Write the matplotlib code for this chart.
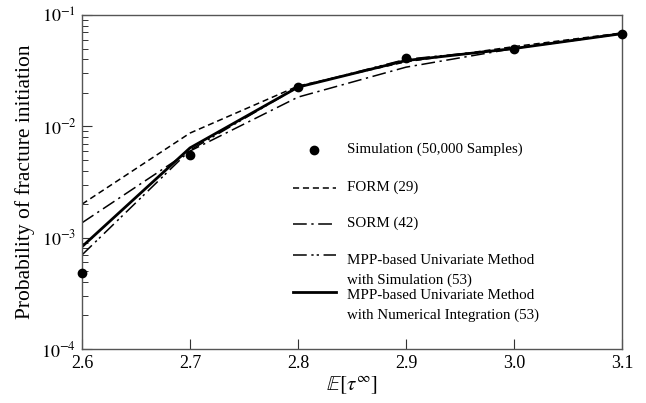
import matplotlib
matplotlib.use("Agg")
import matplotlib.pyplot as plt
from matplotlib.lines import Line2D

plt.rcParams['font.family'] = ['Liberation Serif', 'DejaVu Serif']
plt.rcParams['mathtext.fontset'] = 'stix'

x = [2.6, 2.7, 2.8, 2.9, 3.0, 3.1]
sim = [4.8e-4, 5.5e-3, 0.0225, 0.041, 0.049, 0.068]
form = [2.0e-3, 8.7e-3, 0.023, 0.038, 0.052, 0.069]
sorm = [1.36e-3, 6.0e-3, 0.0183, 0.034, 0.050, 0.068]
mpp_sim = [7.0e-4, 6.1e-3, 0.0225, 0.040, 0.050, 0.068]
mpp_ni = [8.3e-4, 6.4e-3, 0.0225, 0.039, 0.050, 0.068]

labels = ["Simulation (50,000 Samples)", "FORM (29)", "SORM (42)",
          "MPP-based Univariate Method\nwith Simulation (53)",
          "MPP-based Univariate Method\nwith Numerical Integration (53)"]
xticks = [2.6, 2.7, 2.8, 2.9, 3.0, 3.1]
xticklabels = ["2.6", "2.7", "2.8", "2.9", "3.0", "3.1"]

ls_form = (0, (4, 2.5))
ls_sorm = (0, (9, 3, 1.5, 3))
ls_mpp = (0, (9, 3, 1.5, 2, 1.5, 3))

fig = plt.figure(figsize=(6.46, 4.03), dpi=100)
ax = fig.add_axes([82/646, 1-349/403, 540/646, 334/403])

ax.plot(x, form, color='black', lw=1.1, ls=ls_form)
ax.plot(x, sorm, color='black', lw=1.1, ls=ls_sorm)
ax.plot(x, mpp_sim, color='black', lw=1.1, ls=ls_mpp)
ax.plot(x, mpp_ni, color='black', lw=2.0, ls='-')
ax.plot(x, sim, 'o', color='black', ms=6, clip_on=False, zorder=5)

ax.set_yscale('log')
ax.set_xlim(2.6, 3.1)
ax.set_ylim(1e-4, 1e-1)
ax.set_xticks(xticks)
ax.set_xticklabels(xticklabels)
ax.set_yticks([1e-4, 1e-3, 1e-2, 1e-1])
ax.set_yticklabels([r'$10^{-4}$', r'$10^{-3}$', r'$10^{-2}$', r'$10^{-1}$'])
ax.tick_params(axis='both', which='both', direction='in', top=False, right=False, labelsize=13, color='#333333')
ax.tick_params(axis='both', which='major', length=7, width=0.8, pad=4)
ax.tick_params(axis='y', which='minor', length=4, width=0.7)
ax.tick_params(axis='x', which='minor', bottom=False)
for s in ax.spines.values():
    s.set_color('#555555')
    s.set_linewidth(1.0)

ax.set_xlabel(r'$\mathbb{E}[\tau^{\infty}]$', fontsize=15, labelpad=2)
ax.set_ylabel('Probability of fracture initiation', fontsize=15.5, labelpad=5)

# manual legend
hx0, hx1, tx = 0.39, 0.47, 0.49
rows = [(0.597, None), (0.483, ls_form), (0.375, ls_sorm), (0.280, ls_mpp), (0.170, '-')]
text_y = [0.597, 0.483, 0.375, 0.235, 0.130]
for i, (yy, ls) in enumerate(rows):
    if ls is None:
        ax.add_line(Line2D([(hx0+hx1)/2], [yy], marker='o', color='black', ms=6, transform=ax.transAxes))
    else:
        ax.add_line(Line2D([hx0, hx1], [yy, yy], color='black', lw=2.0 if ls == '-' else 1.1, ls=ls, transform=ax.transAxes))
    ax.text(tx, text_y[i], labels[i], transform=ax.transAxes, fontsize=10.8, va='center', ha='left', linespacing=1.6)

fig.savefig('out.png', dpi=100)
